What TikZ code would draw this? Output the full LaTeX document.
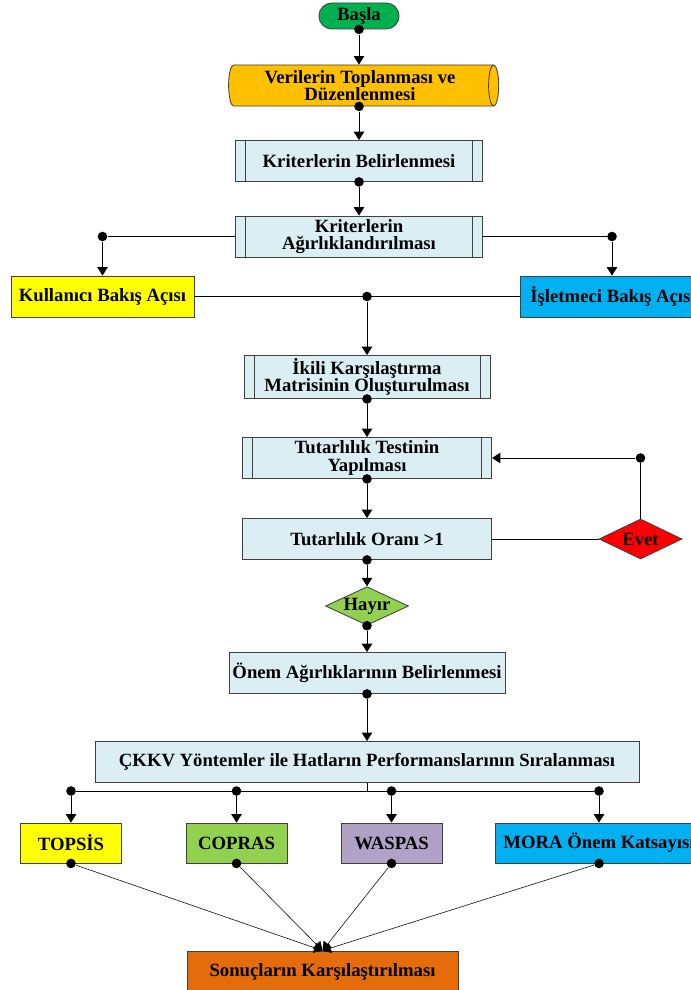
\documentclass[tikz,border=0pt]{standalone}
\usepackage{fontspec}
\setmainfont{Liberation Serif}
\usetikzlibrary{arrows.meta,shapes.geometric,shapes.misc}

\definecolor{paleblue}{HTML}{DAEEF3}
\definecolor{startgreen}{HTML}{00B050}
\definecolor{storeorange}{HTML}{FFC000}
\definecolor{brightyellow}{HTML}{FFFF00}
\definecolor{skyblue}{HTML}{00B0F0}
\definecolor{alarmred}{HTML}{FF0000}
\definecolor{leafgreen}{HTML}{92D050}
\definecolor{lilac}{HTML}{B2A1C7}
\definecolor{resultorange}{HTML}{E46C0A}

\begin{document}
\begin{tikzpicture}[
  x=0.025cm, y=-0.025cm,
  font=\bfseries\fontsize{13.3}{12.5}\selectfont,
  >={Triangle[length=2.1mm,width=2.6mm]},
  line width=0.6pt,
  box/.style={
    draw=black!75, align=center, fill=paleblue,
    minimum width=61.75mm, minimum height=10.25mm, inner sep=2pt
  },
  % predefined process: box with an extra bar at each side
  proc/.style={box,
    path picture={
      \draw[black!75, line width=0.6pt]
        ([xshift=2.5mm]path picture bounding box.north west) --
        ([xshift=2.5mm]path picture bounding box.south west)
        ([xshift=-2.5mm]path picture bounding box.north east) --
        ([xshift=-2.5mm]path picture bounding box.south east);
    }},
  term/.style={rounded rectangle, draw=black!75, fill=startgreen,
    minimum width=20.75mm, minimum height=6.5mm, inner sep=1pt},
  store/.style={cylinder, draw=black!75, fill=storeorange, align=center,
    shape aspect=0.3, minimum width=10.25mm, minimum height=67.5mm, inner sep=1pt},
  decision/.style={diamond, draw=black!75, inner sep=0pt, aspect=2.1,
    minimum width=20.75mm, minimum height=9.5mm},
  method/.style={box, minimum width=25.25mm, minimum height=10mm},
  junction/.style={circle, fill=black, inner sep=0pt, minimum size=2.4mm}
]
\useasboundingbox (0,0) rectangle (690,990);

% ---------- Upper column ----------
\node[term] (basla) at (359,16) {Başla};
\node[store] (veri) at (360,85.5) {Verilerin Toplanması ve\\Düzenlenmesi};
\node[proc] (kbel) at (359,161) {Kriterlerin Belirlenmesi};
\node[proc] (kagr) at (359,236.5) {Kriterlerin\\Ağırlıklandırılması};

% ---------- Viewpoints ----------
\node[box, fill=brightyellow, minimum width=45.75mm] (kul) at (102.5,296.5) {Kullanıcı Bakış Açısı};
\node[box, fill=skyblue, anchor=west, minimum width=0mm, inner xsep=2.5mm] (isl) at (520,296.5) {İşletmeci Bakış Açısı};

% ---------- Consistency loop ----------
\node[proc, minimum width=61.5mm] (ikili) at (367,377) {İkili Karşılaştırma\\Matrisinin Oluşturulması};
\node[proc, minimum width=62.25mm] (test) at (367,458) {Tutarlılık Testinin\\Yapılması};
\node[box, minimum width=62.25mm] (oran) at (367,539) {Tutarlılık Oranı >1};
\node[decision, fill=alarmred, minimum height=10mm] (evet) at (640.5,539) {Evet};
\node[decision, fill=leafgreen] (hayir) at (367,606) {Hayır};
\node[box, minimum width=69mm] (onem) at (367,673) {Önem Ağırlıklarının Belirlenmesi};
\node[box, minimum width=136mm] (ckkv) at (367,762) {ÇKKV Yöntemler ile Hatların Performanslarının Sıralanması};

% ---------- Methods ----------
\node[method, fill=brightyellow] (topsis) at (71,843) {TOPSİS};
\node[method, fill=leafgreen] (copras) at (236.5,843) {COPRAS};
\node[method, fill=lilac] (waspas) at (391.5,843) {WASPAS};
\node[method, fill=skyblue, anchor=west, minimum width=0mm, inner xsep=2mm] (mora) at (495,843) {MORA Önem Katsayısı};
\node[box, fill=resultorange, minimum width=67.75mm] (sonuc) at (322.5,971.5) {Sonuçların Karşılaştırılması};

% ---------- Connectors ----------
\node[junction] (j1) at (basla.south) {};
\draw[->] (j1) -- (j1 |- veri.north);
\node[junction] (j2) at (j1 |- veri.south) {};
\draw[->] (j2) -- (kbel);
\node[junction] (j3) at (kbel.south) {};
\draw[->] (j3) -- (kagr);

\node[junction] (jl) at (kul.north |- kagr.west) {};
\node[junction] (jr) at (612,236.5) {};
\draw (kagr.west) -- (jl);
\draw[->] (jl) -- (kul);
\draw (kagr.east) -- (jr);
\draw[->] (jr) -- (jr |- isl.north);

\draw (kul.east) -- (isl.west);
\node[junction] (jm) at (ikili.north |- kul.east) {};
\draw[->] (jm) -- (ikili);
\node[junction] (j4) at (ikili.south) {};
\draw[->] (j4) -- (test);
\node[junction] (j5) at (test.south) {};
\draw[->] (j5) -- (oran);

\draw (oran.east) -- (evet.west);
\node[junction] (je) at (evet.north |- test.east) {};
\draw (evet.north) -- (je);
\draw[->] (je) -- (test.east);

\node[junction] (j6) at (oran.south) {};
\draw[->] (j6) -- (hayir);
\node[junction] (j7) at (hayir.south) {};
\draw[->] (j7) -- (onem);
\node[junction] (j8) at (onem.south) {};
\draw[->] (j8) -- (ckkv);

% bus under the ranking box
\coordinate (bus) at (ckkv.south |- 0,791);
\node[junction] (bt) at (topsis.north |- bus) {};
\node[junction] (bc) at (copras.north |- bus) {};
\node[junction] (bw) at (waspas.north |- bus) {};
\node[junction] (bm) at (599,791) {};
\draw (ckkv.south) -- (bus);
\draw (bt) -- (bm);
\draw[->] (bt) -- (topsis);
\draw[->] (bc) -- (copras);
\draw[->] (bw) -- (waspas);
\draw[->] (bm) -- (bm |- mora.north);

\node[junction] (st) at (topsis.south) {};
\node[junction] (sc) at (copras.south) {};
\node[junction] (sw) at (waspas.south) {};
\node[junction] (sm) at (bm |- mora.south) {};
\foreach \s in {st,sc,sw,sm}
  \draw[->, line width=0.4pt] (\s) -- (sonuc.north);

\end{tikzpicture}
\end{document}
